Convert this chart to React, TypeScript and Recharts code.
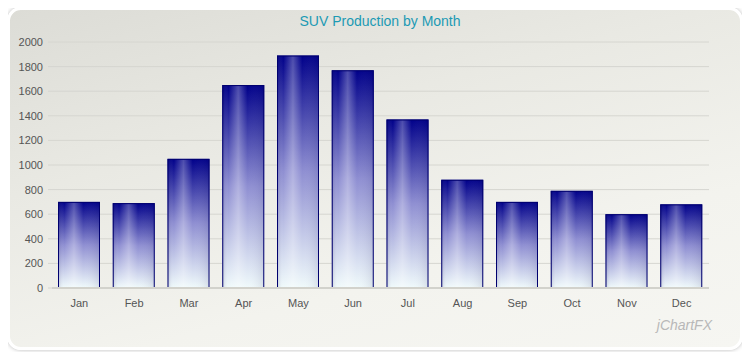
import React from 'react'
import { BarChart, Bar, XAxis, YAxis, CartesianGrid } from 'recharts'

const months = ['Jan', 'Feb', 'Mar', 'Apr', 'May', 'Jun', 'Jul', 'Aug', 'Sep', 'Oct', 'Nov', 'Dec']
const production = [700, 690, 1050, 1650, 1890, 1770, 1370, 880, 700, 790, 600, 680]
const yTicks = [0, 200, 400, 600, 800, 1000, 1200, 1400, 1600, 1800, 2000]

const data = months.map((m, i) => ({ month: m, value: production[i] }))

const font = '"Liberation Sans", Arial, sans-serif'

function CylinderBar(props: any) {
  const { x, y, width, height } = props
  if (!height || height <= 0) return null
  return (
    <g>
      <rect x={x} y={y} width={width} height={height} fill="url(#suvFill)" />
      <rect x={x} y={y} width={width} height={height} fill="url(#suvShine)" />
      <rect x={x + 0.5} y={y + 0.5} width={width - 1} height={height - 1} fill="none" stroke="#00006e" strokeWidth={1} />
    </g>
  )
}

export default function App() {
  return (
    <div style={{ position: 'relative', width: 750, height: 360, margin: -8, background: '#fff', fontFamily: font }}>
      <div
        style={{
          position: 'absolute', left: 7, top: 7, width: 730, height: 337,
          border: '3px solid #ffffff', borderRadius: 14,
          boxShadow: '0 0 4px rgba(0,0,0,0.28)',
          background: 'linear-gradient(165deg, #dcdcd6 0%, #e9e9e3 35%, #f3f3ee 70%, #f6f6f2 100%)',
        }}
      />
      <div style={{ position: 'absolute', left: 0, top: 13, width: 760, textAlign: 'center', color: '#1c9ab4', fontSize: 14 }}>
        SUV Production by Month
      </div>
      <div style={{ position: 'absolute', right: 38, top: 317, color: '#b8b8b8', fontSize: 14, fontStyle: 'italic' }}>
        jChartFX
      </div>
      <div style={{ position: 'absolute', left: 0, top: 0 }}>
        <BarChart width={750} height={360} data={data} margin={{ top: 42, right: 41, left: 1, bottom: 0 }}>
          <defs>
            <linearGradient id="suvFill" x1="0" y1="0" x2="0" y2="1">
              <stop offset="0%" stopColor="#00008a" />
              <stop offset="50%" stopColor="#8f8fd2" />
              <stop offset="100%" stopColor="#f0fafb" />
            </linearGradient>
            <linearGradient id="suvShine" x1="0" y1="0" x2="1" y2="0">
              <stop offset="0%" stopColor="#000040" stopOpacity={0.15} />
              <stop offset="15%" stopColor="#ffffff" stopOpacity={0} />
              <stop offset="38%" stopColor="#ffffff" stopOpacity={0.3} />
              <stop offset="60%" stopColor="#ffffff" stopOpacity={0} />
              <stop offset="100%" stopColor="#000040" stopOpacity={0.1} />
            </linearGradient>
          </defs>
          <CartesianGrid vertical={false} stroke="#d6d6d0" />
          <XAxis
            dataKey="month"
            height={72}
            tickLine={false}
            axisLine={{ stroke: '#d2d2cc', strokeWidth: 2 }}
            tickMargin={5}
            tick={{ fontSize: 11, fill: '#555', fontFamily: font }}
          />
          <YAxis
            width={51}
            domain={[0, 2000]}
            ticks={yTicks}
            interval={0}
            axisLine={false}
            tickLine={{ stroke: '#d6d6d0' }}
            tickSize={4}
            tickMargin={5}
            tick={{ fontSize: 11, fill: '#555', fontFamily: font }}
          />
          <Bar dataKey="value" barSize={42} shape={<CylinderBar />} isAnimationActive={false} />
        </BarChart>
      </div>
    </div>
  )
}
